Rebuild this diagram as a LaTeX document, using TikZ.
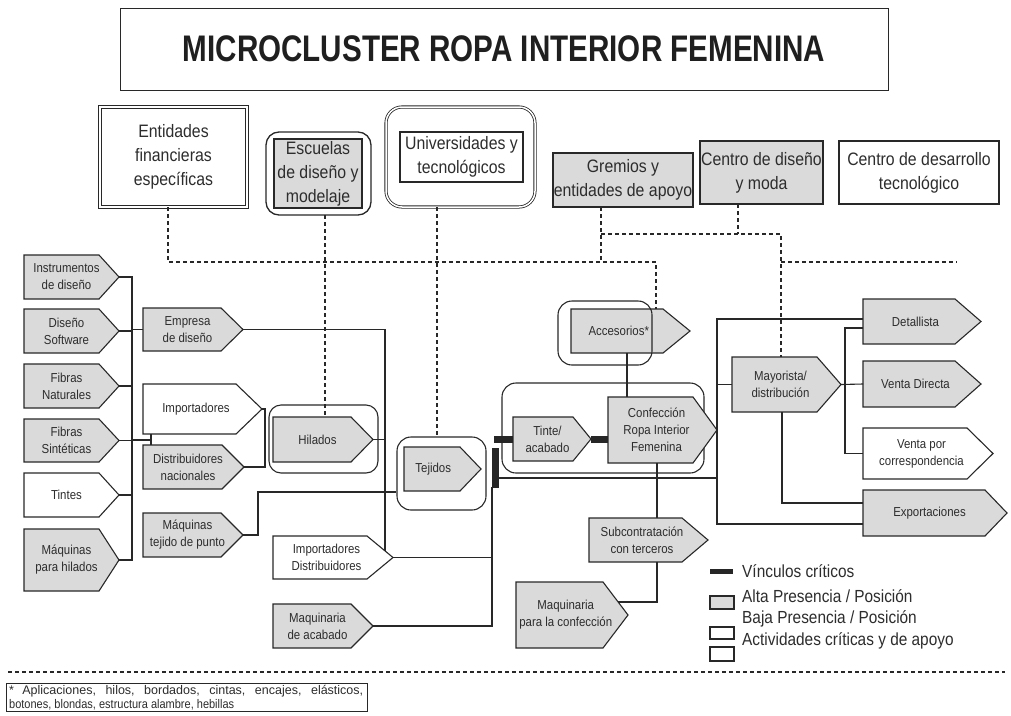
\documentclass[tikz,border=0pt]{standalone}
\usepackage{fontspec}
\setmainfont[FakeStretch=0.88]{Liberation Sans}
\newfontfamily\titlefont[FakeStretch=0.8]{Liberation Sans}
\newfontfamily\plainfont{Liberation Sans}
\usetikzlibrary{calc}
\definecolor{lc}{RGB}{40,40,40}
\definecolor{tc}{RGB}{45,45,45}
\definecolor{lg}{RGB}{218,218,218}
\tikzset{
  boxl/.style={draw=lc, line width=1.1pt, line join=miter},
  conn/.style={draw=lc, line width=1.1pt},
  dl/.style={draw=lc, line width=1.1pt, dash pattern=on 4pt off 3pt},
  crit/.style={draw=black!85, line width=7pt},
  lbl/.style={font=\fontsize{13}{17}\selectfont, align=center, text=tc, inner sep=0pt},
  inst/.style={font=\fontsize{18}{24}\selectfont, align=center, text=tc, inner sep=0pt},
  rbox/.style={draw=lc, line width=1.1pt, rounded corners=12pt, inner sep=0pt},
  legtxt/.style={font=\fontsize{17.5}{20}\selectfont, text=tc, anchor=west, inner sep=0pt},
  legbox/.style={draw=lc, line width=1.1pt, minimum width=24pt, inner sep=0pt},
}
% #1 text shift, #2 name, #3 fill, #4 x1, #5 y1, #6 x notch, #7 x tip, #8 y2, #9 text
\newcommand{\arrowbox}[9][0]{%
  \draw[boxl, fill=#3] (#4,#5) -- (#6,#5) -- (#7,{(#5+#8)/2}) -- (#6,#8) -- (#4,#8) -- cycle;
  \node[lbl] (#2) at ({(#4+(#6+#7)/2)/2+#1},{(#5+#8)/2}) {#9};
  \coordinate (#2-tip) at (#7,{(#5+#8)/2});
  \coordinate (#2-w) at (#4,{(#5+#8)/2});
  \coordinate (#2-nw) at (#4,#5);
  \coordinate (#2-sw) at (#4,#8);
}
\begin{document}
\begin{tikzpicture}[x=1pt,y=-1pt]
\useasboundingbox (0,0) rectangle (1011,715);
\fill[white] (0,0) rectangle (1011,715);

% ---------- title
\node[draw=lc, line width=1pt, minimum width=768pt, minimum height=82pt, inner sep=0pt, text=black!88,
      font=\titlefont\bfseries\fontsize{37}{37}\selectfont] (title) at (504,49) {MICROCLUSTER ROPA INTERIOR FEMENINA};

% ---------- institutions
\node[draw=lc, double, double distance=1.6pt, line width=0.8pt, minimum width=147pt, minimum height=100pt, inst] (ent) at (173.5,157) {Entidades\\financieras\\específicas};
\node[rbox, rounded corners=13pt, line width=1.3pt, minimum width=105pt, minimum height=83pt] (esco) at (318.5,173.5) {};
\node[draw=lc, line width=1.1pt, fill=lg, minimum width=88pt, minimum height=69pt, inst] (esc) at (318,173.5) {Escuelas\\de diseño y\\modelaje};
\node[rbox, double, double distance=1.5pt, line width=0.8pt, rounded corners=16pt, minimum width=149pt, minimum height=100pt] (unio) at (460.5,157) {};
\node[draw=lc, line width=1.1pt, minimum width=123pt, minimum height=50pt, inst] (uni) at (461.5,157) {Universidades y\\tecnológicos};
\node[draw=lc, line width=1.1pt, fill=lg, minimum width=140pt, minimum height=54pt, inst] (grem) at (623,180) {Gremios y\\entidades de apoyo};
\node[draw=lc, line width=1.1pt, fill=lg, minimum width=123pt, minimum height=63pt, inst] (cdm) at (761.5,172.5) {Centro de diseño\\y moda};
\node[draw=lc, line width=1.1pt, minimum width=160pt, minimum height=63pt, inst] (cdt) at (919,172.5) {Centro de desarrollo\\tecnológico};

% ---------- group box behind
\node[rbox, rounded corners=14pt, minimum width=202pt, minimum height=90pt] (grp) at (603,428) {};

% ---------- left column
\arrowbox{instr}{lg}{24}{255}{99}{119}{299}{Instrumentos\\de diseño}
\arrowbox{soft}{lg}{24}{309}{99}{119}{353}{Diseño\\Software}
\arrowbox{fnat}{lg}{24}{364}{99}{119}{408}{Fibras\\Naturales}
\arrowbox{fsin}{lg}{24}{419}{99}{119}{462}{Fibras\\Sintéticas}
\arrowbox{tint}{white}{24}{473}{99}{119}{517}{Tintes}
\arrowbox{maqh}{lg}{24}{529}{99}{119}{591}{Máquinas\\para hilados}

\arrowbox{emp}{lg}{143}{308}{221}{243}{351}{Empresa\\de diseño}
\arrowbox{imp}{white}{143}{384}{236}{262}{434}{Importadores}
\arrowbox{dis}{lg}{143}{445}{222}{244}{489}{Distribuidores\\nacionales}
\arrowbox{mtp}{lg}{143}{513}{221}{243}{557}{Máquinas\\tejido de punto}

\arrowbox{hil}{lg}{273}{417}{351}{373}{462}{Hilados}
\arrowbox[-4]{tej}{lg}{404}{447}{460}{481}{491}{Tejidos}
\arrowbox{impd}{white}{273}{536}{367}{393}{579}{Importadores\\Distribuidores}
\arrowbox{macab}{lg}{273}{604}{351}{373}{648}{Maquinaria\\de acabado}

% ---------- center
\arrowbox[-5]{acc}{lg}{571}{309}{663}{690}{353}{Accesorios*}
\arrowbox{tin}{lg}{513}{417}{573}{591}{461}{Tinte/\\acabado}
\arrowbox{conf}{lg}{608}{397}{693}{717}{463}{Confección\\Ropa Interior\\Femenina}
\arrowbox{sub}{lg}{589}{518}{682}{708}{562}{Subcontratación\\con terceros}
\arrowbox{mpc}{lg}{516}{582}{603}{628}{648}{Maquinaria\\para la confección}

% ---------- right
\arrowbox{may}{lg}{732}{357}{817}{841}{412}{Mayorista/\\distribución}
\arrowbox{det}{lg}{863}{299}{955}{981}{344}{Detallista}
\arrowbox{vd}{lg}{863}{361}{955}{981}{407}{Venta Directa}
\arrowbox{vpc}{white}{863}{428}{967}{993}{479}{Venta por\\correspondencia}
\arrowbox{exp}{lg}{863}{490}{985}{1007}{536}{Exportaciones}

% ---------- rounded frames
\node[rbox, minimum width=109pt, minimum height=68pt] (hilo) at (323.5,439) {};
\node[rbox, rounded corners=14pt, minimum width=89pt, minimum height=73pt] (tejo) at (441.5,473.5) {};
\node[rbox, rounded corners=14pt, minimum width=94pt, minimum height=64pt] (acco) at (605,333) {};

% ---------- dashed links
\coordinate (yA) at (0,262);
\coordinate (yB) at (0,234);
\coordinate (d-ent) at (168,207);
\coordinate (acc-d) at (656,309);
\coordinate (esc-d) at (325,215);
\coordinate (hil-d) at (325,417);
\coordinate (uni-d) at (437,207);
\coordinate (tej-d) at (437,437);
\coordinate (grem-d) at (601,207);
\coordinate (cdm-d) at (738,204);
\coordinate (may-d) at (781,357);
\coordinate (dend) at (957,262);
\draw[dl] (d-ent) |- (acc-d |- yA) -- (acc-d);
\draw[dl] (esc-d) -- (hil-d);
\draw[dl] (uni-d) -- (tej-d);
\draw[dl] (grem-d) -- (grem-d |- yA);
\draw[dl] (cdm-d) -- (cdm-d |- yB);
\draw[dl] (grem-d |- yB) -| (may-d);
\draw[dl] (may-d |- yA) -- (dend);

% ---------- left connectors
\coordinate (bus) at (132,0);
\draw[conn] (instr-tip) -| (bus |- maqh-tip) -- (maqh-tip);
\draw[conn] (soft-tip) -- (soft-tip -| bus);
\draw[conn] (fnat-tip) -- (fnat-tip -| bus);
\draw[conn] (fsin-tip) -- (fsin-tip -| bus);
\draw[conn] (tint-tip) -- (tint-tip -| bus);
\draw[conn] (bus |- emp-w) -- (emp-w);
\coordinate (jn) at (151,440);
\draw[conn] (bus |- jn) -- (jn);
\draw[conn] (jn |- imp-sw) -- (jn |- dis-nw);
\coordinate (brk) at (265,0);
\draw[conn] (imp-tip) -- (brk |- imp-tip) -- (brk |- dis-tip) -- (dis-tip);
\coordinate (v385) at (385,0);
\coordinate (impd-e) at (385,551);
\draw[conn] (emp-tip) -- (v385 |- emp-tip) -- (impd-e);
\draw[conn] (hil-tip) -- (v385 |- hil-tip);
\coordinate (mtp-j) at (258,492);
\draw[conn] (mtp-tip) -| (mtp-j) -- (tejo.west |- mtp-j);
\coordinate (v492) at (492,487);
\draw[conn] (v492) |- (macab-tip);
\draw[conn] (impd-tip) -- (v492 |- impd-tip);

% ---------- center connectors
\coordinate (h478) at (498,478);
\coordinate (vR) at (717,0);
\draw[conn] (h478) -- (vR |- h478);
\coordinate (acc-b) at (627,353);
\coordinate (conf-t) at (627,397);
\draw[conn] (acc-b) -- (conf-t);
\coordinate (conf-b) at (657,463);
\coordinate (sub-t) at (657,518);
\draw[conn] (conf-b) -- (sub-t);
\coordinate (sub-b) at (657,562);
\coordinate (mpc-e) at (618,602);
\draw[conn] (sub-b) |- (mpc-e);

% critical links
\coordinate (cb1t) at (495,448);
\coordinate (cb1b) at (495,488);
\draw[crit] (cb1t) -- (cb1b);
\coordinate (cb2) at (494,439);
\draw[crit] (cb2) -- (tin-w);
\draw[crit] (tin-tip) -- (conf-w |- tin-tip);

% ---------- right connectors
\coordinate (det-a) at (863,319);
\coordinate (det-b) at (863,328);
\coordinate (exp-a) at (863,503);
\coordinate (exp-b) at (863,524);
\draw[conn] (det-a) -| (vR |- exp-b) -- (exp-b);
\draw[conn] (vR |- may-w) -- (may-w);
\coordinate (v845) at (845,0);
\draw[conn] (may-tip) -- (vd-w);
\draw[conn] (det-b) -| (v845 |- vpc-w) -- (vpc-w);
\coordinate (may-b) at (782,412);
\draw[conn] (may-b) |- (exp-a);

% ---------- legend
\coordinate (lb1) at (710,571);
\coordinate (lb2) at (733,571);
\draw[black!85, line width=5pt] (lb1) -- (lb2);
\node[legtxt] (l1) at (742,571) {Vínculos críticos};
\node[legbox, fill=lg, minimum height=13pt] (lgb) at (722,602.5) {};
\node[legtxt] (l2) at (742,596) {Alta Presencia / Posición};
\node[legtxt] (l3) at (742,619) {Baja Presencia / Posición};
\node[legbox, minimum height=12pt] (lw1) at (722,633) {};
\node[legtxt] (l4) at (742,641) {Actividades críticas y de apoyo};
\node[legbox, minimum height=14pt] (lw2) at (722,654) {};

% ---------- separator and footnote
\coordinate (sepL) at (8,672);
\coordinate (sepR) at (1005,672);
\draw[dl] (sepL) -- (sepR);
\node[draw=lc, line width=0.9pt, minimum width=361pt, minimum height=28pt, inner sep=0pt] (fn) at (186.5,697) {};
\node[anchor=west, align=left, inner sep=0pt, text=tc, font=\fontsize{12.5}{14}\selectfont] (fntxt) at (9,697.5)
  {\makebox[354pt][s]{\plainfont * Aplicaciones, hilos, bordados, cintas, encajes, elásticos,}\\botones, blondas, estructura alambre, hebillas};
\end{tikzpicture}
\end{document}
